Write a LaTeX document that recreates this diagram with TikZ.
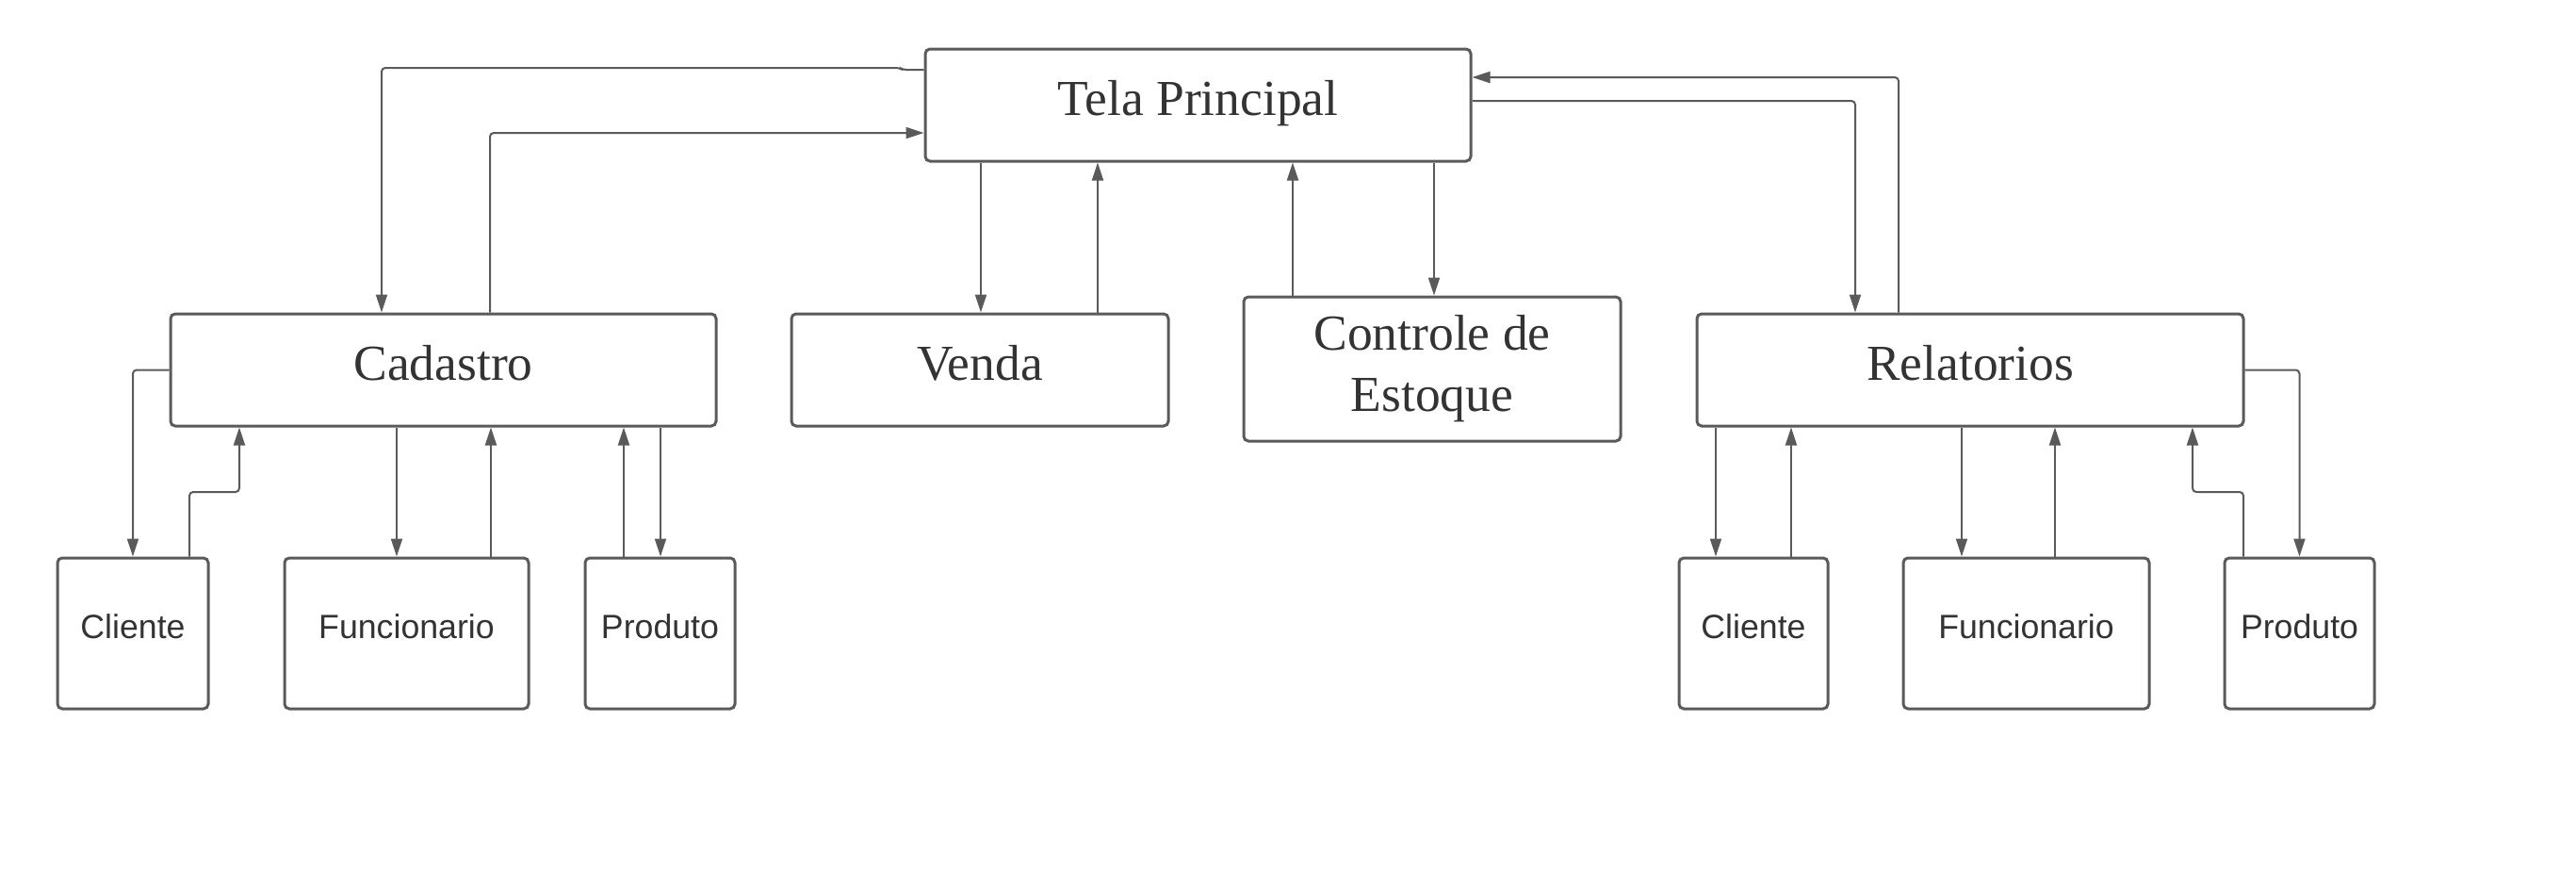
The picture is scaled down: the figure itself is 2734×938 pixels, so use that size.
\documentclass[tikz,border=0pt]{standalone}
\usepackage{fontspec}
\setmainfont{Liberation Serif}
\newfontfamily\sansf{Liberation Sans}
\usetikzlibrary{arrows.meta}
\definecolor{linegray}{HTML}{5A5A5A}
\definecolor{textgray}{HTML}{333333}
\tikzset{
  bigbox/.style={draw=linegray, line width=3pt, rounded corners=5pt, text=textgray,
    font=\fontsize{53.5}{65}\selectfont, text height=37pt, text depth=16pt, inner sep=0pt},
  smallbox/.style={draw=linegray, line width=3pt, rounded corners=5pt, text=textgray,
    font=\sansf\fontsize{35.7}{42}\selectfont, text height=25pt, text depth=15pt, inner sep=0pt,
    minimum height=160pt},
  conn/.style={draw=linegray, line width=2pt, rounded corners=4pt},
  arr/.style={conn, -{Triangle[length=19pt,width=12pt]}}
}
\begin{document}
\begin{tikzpicture}[x=1pt,y=-1pt]
\useasboundingbox (0,0) rectangle (2734,938);
% main boxes
\node[bigbox, minimum width=579pt, minimum height=119pt] (tela) at (1271.5,111.5) {Tela Principal};
\node[bigbox, minimum width=579pt, minimum height=119pt] (cad) at (470.5,392.5) {Cadastro};
\node[bigbox, minimum width=400pt, minimum height=119pt] (venda) at (1040,392.5) {Venda};
\node[draw=linegray, line width=3pt, rounded corners=5pt, text=textgray, inner sep=0pt,
  font=\fontsize{53.5}{65}\selectfont, align=center, minimum width=400pt, minimum height=153pt]
  (ctrl) at (1520,391.5) {Controle de\\Estoque};
\node[bigbox, minimum width=580pt, minimum height=119pt] (rel) at (2091,392.5) {Relatorios};
% small boxes
\node[smallbox, minimum width=160pt] (cl1) at (141,672) {Cliente};
\node[smallbox, minimum width=259pt] (fu1) at (431.5,672) {Funcionario};
\node[smallbox, minimum width=159pt] (pr1) at (700.5,672) {Produto};
\node[smallbox, minimum width=158pt] (cl2) at (1861,672) {Cliente};
\node[smallbox, minimum width=261pt] (fu2) at (2150.5,672) {Funcionario};
\node[smallbox, minimum width=159pt] (pr2) at (2440.5,672) {Produto};
% Tela <-> Cadastro
\draw[arr] (tela.west |- 0,74) -- (958,74) -- (955,72) -- (405,72) -- (405,0 |- cad.north);
\draw[arr] (520,0 |- cad.north) -- (520,141) -- (tela.west |- 0,141);
% Tela <-> Venda
\draw[arr] (1041,0 |- tela.south) -- (1041,0 |- venda.north);
\draw[arr] (1165,0 |- venda.north) -- (1165,0 |- tela.south);
% Tela <-> Controle
\draw[arr] (1372,0 |- ctrl.north) -- (1372,0 |- tela.south);
\draw[arr] (1522,0 |- tela.south) -- (1522,0 |- ctrl.north);
% Tela <-> Relatorios
\draw[arr] (tela.east |- 0,107) -- (1969,107) -- (1969,0 |- rel.north);
\draw[arr] (2015,0 |- rel.north) -- (2015,82) -- (tela.east |- 0,82);
% Cadastro children
\draw[arr] (cad.west) -- (cad.west -| cl1.north) -- (cl1.north);
\draw[arr] (201,0 |- cl1.north) -- (201,522) -- (254,522) -- (254,0 |- cad.south);
\draw[arr] (421,0 |- cad.south) -- (421,0 |- fu1.north);
\draw[arr] (521,0 |- fu1.north) -- (521,0 |- cad.south);
\draw[arr] (662,0 |- pr1.north) -- (662,0 |- cad.south);
\draw[arr] (701,0 |- cad.south) -- (701,0 |- pr1.north);
% Relatorios children
\draw[arr] (1821,0 |- rel.south) -- (1821,0 |- cl2.north);
\draw[arr] (1901,0 |- cl2.north) -- (1901,0 |- rel.south);
\draw[arr] (2082,0 |- rel.south) -- (2082,0 |- fu2.north);
\draw[arr] (2181,0 |- fu2.north) -- (2181,0 |- rel.south);
\draw[arr] (2381,0 |- pr2.north) -- (2381,522) -- (2327,522) -- (2327,0 |- rel.south);
\draw[arr] (rel.east) -- (rel.east -| pr2.north) -- (pr2.north);
\end{tikzpicture}
\end{document}
